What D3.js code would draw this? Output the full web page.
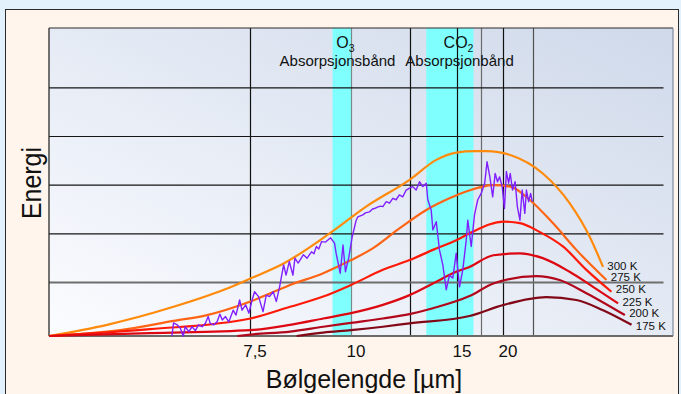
<!DOCTYPE html>
<html>
<head>
<meta charset="utf-8">
<script src="https://cdn.jsdelivr.net/npm/d3@7"></script>
<style>
    body { margin: 0; background: #e2f1fc; }
    svg { display: block; font-family: "Liberation Sans", Arial, Helvetica, sans-serif; }
</style>
</head>
<body>
<svg id="chart" width="681" height="394"></svg>
<script>
// wavelength in µm, energy in arbitrary units
var tickValues = [7.5, 10, 15, 20];
var gridX = [7.5, 10, 12.5, 15, 17.5, 20, 25];
var gridE = [1.1, 2.1, 3.1, 4.1, 5.1];

var bands = [
    {name: "O", sub: "3", label: "Absorpsjonsbånd", from: 9.53, to: 10},
    {name: "CO", sub: "2", label: "Absorpsjonbånd", from: 13.34, to: 16.67}
];

var temps = ["300 K", "275 K", "250 K", "225 K", "200 K", "175 K"];

var c300 = [[2.5,0],[3.94,0.23],[5.59,0.6],[6.84,0.95],[7.52,1.19],[8.32,1.49],[9.46,2.11],[10.62,2.66],[12.46,3.21],[13.87,3.62],[14.93,3.77],[16.77,3.8],[18.06,3.8],[21.13,3.72],[26.67,3.34],[31.47,2.73],[35.07,2.04],[37.46,1.42]];
var c275 = [[2.5,0],[4.27,0.12],[5.59,0.31],[6.42,0.43],[7.5,0.71],[8.48,1.05],[9.3,1.29],[9.99,1.56],[10.9,1.8],[12.03,2.21],[13.34,2.59],[14.57,2.83],[15.91,2.97],[18.85,3.1],[21.13,3.07],[24.35,2.8],[28.47,2.32],[32.68,1.77],[38.08,1.15]];
var c250 = [[2.5,0],[5.01,0.14],[7.5,0.36],[8.48,0.6],[9.3,0.81],[9.99,1.05],[11.33,1.36],[12.46,1.56],[13.69,1.77],[14.93,1.97],[16.25,2.11],[20.05,2.35],[22.74,2.32],[26.08,2.14],[30.27,1.84],[34.48,1.36],[38.97,0.91]];
var c225 = [[2.5,0],[5.01,0.06],[7.5,0.12],[8.48,0.23],[9.3,0.36],[9.99,0.47],[11.33,0.64],[12.46,0.84],[13.69,1.08],[14.93,1.32],[16.25,1.42],[18.85,1.66],[22.74,1.7],[26.67,1.6],[31.47,1.32],[35.67,1.01],[40.16,0.67]];
var c200 = [[7.17,0],[7.5,0.03],[8.48,0.09],[9.3,0.19],[9.99,0.27],[11.33,0.36],[12.46,0.45],[13.69,0.57],[16.25,0.82],[18.85,1.08],[25.49,1.23],[29.68,1.15],[34.48,0.88],[41.37,0.43]];
var c175 = [[8.64,0],[9.3,0.07],[9.99,0.12],[11.33,0.19],[12.46,0.26],[16.25,0.41],[20.05,0.64],[27.28,0.8],[32.68,0.74],[37.46,0.53],[42.57,0.23]];

// measured spectrum
var measured = [[5.55,0],[5.59,0.27],[5.68,0.23],[5.76,0.16],[5.83,0],[5.88,0.19],[5.97,0.09],[6.05,0.19],[6.13,0.11],[6.21,0.23],[6.3,0.19],[6.38,0.26],[6.45,0.4],[6.5,0.26],[6.59,0.23],[6.67,0.29],[6.74,0.45],[6.8,0.33],[6.88,0.4],[6.96,0.29],[7.07,0.53],[7.14,0.43],[7.23,0.74],[7.29,0.53],[7.38,0.64],[7.46,0.47],[7.54,0.74],[7.6,0.91],[7.7,0.81],[7.81,0.5],[7.89,0.84],[7.97,0.81],[8.06,0.91],[8.14,0.71],[8.22,1.01],[8.32,1.46],[8.38,1.25],[8.46,1.53],[8.55,1.25],[8.6,1.6],[8.68,1.5],[8.81,1.67],[8.9,1.6],[9.01,1.73],[9.07,1.69],[9.13,1.84],[9.19,1.79],[9.26,1.94],[9.36,1.93],[9.48,2.02],[9.58,1.91],[9.62,1.7],[9.72,1.29],[9.79,1.87],[9.85,1.32],[9.93,1.6],[10.03,2.04],[10.2,2.38],[10.27,2.45],[10.48,2.49],[10.59,2.53],[10.76,2.55],[10.89,2.61],[10.97,2.62],[11.1,2.65],[11.23,2.67],[11.33,2.66],[11.47,2.76],[11.61,2.73],[11.75,2.83],[11.89,2.8],[12.03,2.9],[12.17,2.86],[12.32,3],[12.46,3.04],[12.62,3.07],[12.8,3],[12.98,3.17],[13.15,3.07],[13.34,3.14],[13.42,2.8],[13.6,2.59],[13.69,2.18],[13.87,2.35],[14.04,1.77],[14.22,1.46],[14.4,0.95],[14.57,1.25],[14.75,1.19],[14.93,1.7],[15.21,1.01],[15.55,1.36],[15.91,1.97],[16.07,2.38],[16.43,1.84],[16.77,2.49],[17.11,2.8],[17.47,2.93],[17.86,3.14],[18.13,3.58],[18.45,3.27],[18.77,2.86],[19.05,3.34],[19.32,3.17],[19.56,3.27],[19.85,3.07],[20.16,2.62],[20.48,3.38],[20.85,3.14],[21.13,3.34],[21.5,3],[21.94,3.17],[22.31,2.66],[22.74,2.38],[23.11,3],[23.55,2.52],[23.82,3],[24.19,2.76],[24.52,2.93],[24.79,2.76]];

var curves = [c300, c275, c250, c225, c200, c175];

var svg = d3.select('#chart'),
    plot = {left: 49, top: 28, right: 673, bottom: 336},
    curveColors = ['#ff8a0c', '#ff6414', '#ff1a08', '#dc0812', '#b2081c', '#820818'],
    labelDy = [3.3, 1, 1.6, 2.4, 2.3, 5];

// the wavelength axis of the figure is not linear, so the scale is piecewise
var x = d3.scaleLinear()
    .domain([2.5, 7.5, 10, 12.5, 15, 17.5, 20, 25, 50])
    .range([plot.left, 250.5, 351.5, 410.5, 457.5, 481.5, 503.5, 533.5, plot.right]);
var y = d3.scaleLinear()
    .domain([0, 6.33])
    .range([plot.bottom, plot.top]);

var defs = svg.append('defs');
var grad = defs.append('linearGradient')
    .attr('id', 'bg')
    .attr('x1', 0).attr('y1', 1)
    .attr('x2', 1).attr('y2', 0);
grad.append('stop').attr('offset', '0%').attr('stop-color', '#fbfcff');
grad.append('stop').attr('offset', '100%').attr('stop-color', '#cfd9ea');

// cream panel
svg.append('rect')
    .attr('x', 5.5).attr('y', 9.5)
    .attr('width', 673).attr('height', 400)
    .attr('fill', '#fff5ec')
    .attr('stroke', '#2b2b2b');

// plot background
svg.append('rect')
    .attr('x', plot.left).attr('y', plot.top)
    .attr('width', plot.right - plot.left)
    .attr('height', plot.bottom - plot.top)
    .attr('fill', 'url(#bg)');

// absorption bands
svg.selectAll('.band')
    .data(bands)
    .enter().append('rect')
    .attr('class', 'band')
    .attr('x', d => x(d.from))
    .attr('y', plot.top)
    .attr('width', d => x(d.to) - x(d.from))
    .attr('height', plot.bottom - plot.top)
    .attr('fill', '#80ffff');

// vertical grid
var vColor = ['#111', '#7a8a8a', '#111', '#111', '#6c6c6c', '#111', '#505050'];
svg.selectAll('.vgrid')
    .data(gridX)
    .enter().append('line')
    .attr('class', 'vgrid')
    .attr('x1', d => x(d)).attr('x2', d => x(d))
    .attr('y1', plot.top).attr('y2', plot.bottom)
    .attr('stroke', (d, i) => vColor[i])
    .attr('stroke-width', 1.2);

// horizontal grid
svg.selectAll('.hgrid')
    .data(gridE)
    .enter().append('line')
    .attr('class', 'hgrid')
    .attr('x1', plot.left).attr('x2', 663.5)
    .attr('y1', d => y(d)).attr('y2', d => y(d))
    .attr('stroke', (d, i) => i === 0 ? '#6e6e6e' : '#151515')
    .attr('stroke-width', (d, i) => i === 0 ? 2.2 : 1.2);

// frame
svg.append('line')
    .attr('x1', plot.left).attr('x2', plot.right)
    .attr('y1', plot.top).attr('y2', plot.top)
    .attr('stroke', '#2a2a2a').attr('stroke-width', 1.2);
svg.append('line')
    .attr('x1', plot.left).attr('x2', plot.left)
    .attr('y1', plot.top).attr('y2', plot.bottom)
    .attr('stroke', '#2a2a2a').attr('stroke-width', 1.3);
svg.append('line')
    .attr('x1', plot.right).attr('x2', plot.right)
    .attr('y1', plot.top).attr('y2', plot.bottom)
    .attr('stroke', '#7f8aa0').attr('stroke-width', 1.2);
svg.append('line')
    .attr('x1', plot.left).attr('x2', plot.right)
    .attr('y1', plot.bottom).attr('y2', plot.bottom)
    .attr('stroke', '#6a6a6a').attr('stroke-width', 2);

// band labels
var nameShift = [-6, -15];
var names = svg.selectAll('.bandname')
    .data(bands)
    .enter().append('text')
    .attr('class', 'bandname')
    .attr('x', (d, i) => x(d.to) + nameShift[i])
    .attr('y', 48)
    .attr('text-anchor', 'middle')
    .attr('font-size', 16)
    .attr('fill', '#111')
    .text(d => d.name);
names.append('tspan')
    .attr('font-size', 10.5)
    .attr('dy', 3.5)
    .text(d => d.sub);

svg.selectAll('.bandlabel')
    .data(bands)
    .enter().append('text')
    .attr('class', 'bandlabel')
    .attr('x', d => x(d.to) - 14)
    .attr('y', 66)
    .attr('text-anchor', 'middle')
    .attr('font-size', 15)
    .attr('fill', '#111')
    .text(d => d.label);

// temperature curves
var line = d3.line()
    .x(d => x(d[0]))
    .y(d => y(d[1]))
    .curve(d3.curveMonotoneX);

svg.selectAll('.curve')
    .data(curves)
    .enter().append('path')
    .attr('class', 'curve')
    .attr('d', line)
    .attr('fill', 'none')
    .attr('stroke', (d, i) => curveColors[i])
    .attr('stroke-width', 2.2);

svg.selectAll('.templabel')
    .data(curves)
    .enter().append('text')
    .attr('class', 'templabel')
    .attr('x', d => x(d[d.length - 1][0]) + 4.3)
    .attr('y', (d, i) => y(d[d.length - 1][1]) + labelDy[i])
    .attr('font-size', 11.5)
    .attr('fill', '#111')
    .text((d, i) => temps[i]);

// measured spectrum
svg.append('path')
    .datum(measured)
    .attr('d', d3.line().x(d => x(d[0])).y(d => y(d[1])))
    .attr('fill', 'none')
    .attr('stroke', '#8020ff')
    .attr('stroke-width', 1.4)
    .attr('stroke-linejoin', 'round');

// x axis labels
var xAxis = d3.axisBottom(x)
    .tickValues(tickValues)
    .tickSize(0)
    .tickFormat(d => String(d).replace('.', ','));
var axisG = svg.append('g')
    .attr('transform', 'translate(4,' + plot.bottom + ')')
    .call(xAxis);
axisG.select('.domain').remove();
axisG.selectAll('text')
    .attr('y', 21)
    .attr('dy', 0)
    .attr('font-size', 17)
    .attr('font-family', '"Liberation Sans", Arial, sans-serif')
    .attr('fill', '#111');

// titles
svg.append('text')
    .attr('x', 364)
    .attr('y', 388)
    .attr('text-anchor', 'middle')
    .attr('font-size', 25)
    .attr('fill', '#111')
    .text('Bølgelengde [µm]');

svg.append('text')
    .attr('transform', 'translate(41,183) rotate(-90)')
    .attr('text-anchor', 'middle')
    .attr('font-size', 27)
    .attr('textLength', 72)
    .attr('lengthAdjust', 'spacingAndGlyphs')
    .attr('fill', '#111')
    .text('Energi');
</script>
</body>
</html>
